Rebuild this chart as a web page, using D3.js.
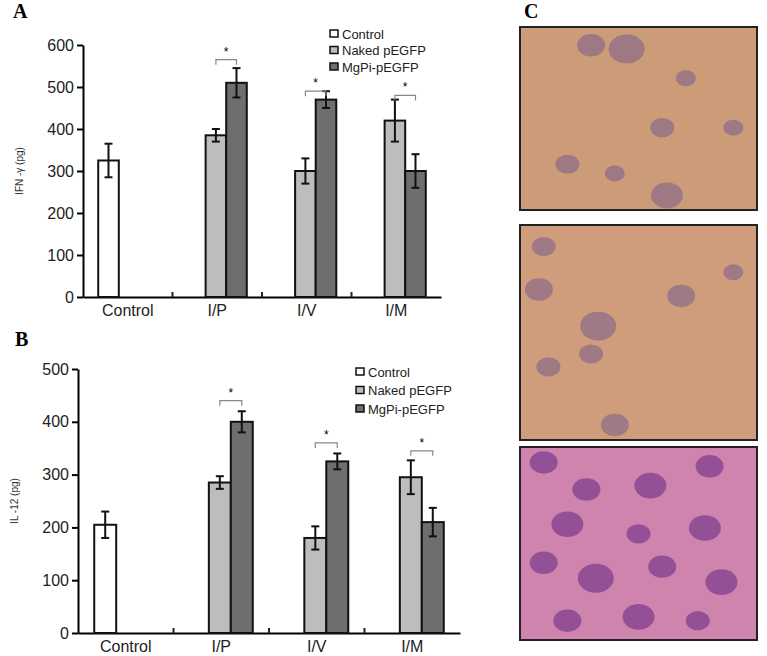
<!DOCTYPE html>
<html><head><meta charset="utf-8">
<script src="https://cdn.jsdelivr.net/npm/d3@7"></script>
<style>body{margin:0;background:#fff}svg{display:block}</style>
</head><body>
<svg id="fig" width="767" height="656"></svg>
<script>
const categories = ['Control', 'I/P', 'I/V', 'I/M'];
const seriesNames = ['Control', 'Naked pEGFP', 'MgPi-pEGFP'];
const colors = ['#ffffff', '#bdbdbd', '#6e6e6e'];
// [category, series, value, error]
const ifnValues = [
  ['Control', 0, 325, 40], ['I/P', 1, 385, 15], ['I/P', 2, 510, 35],
  ['I/V', 1, 300, 30], ['I/V', 2, 470, 20], ['I/M', 1, 420, 50], ['I/M', 2, 300, 40]
];
const il12Values = [
  ['Control', 0, 205, 25], ['I/P', 1, 285, 12], ['I/P', 2, 400, 20],
  ['I/V', 1, 180, 22], ['I/V', 2, 325, 15], ['I/M', 1, 295, 32], ['I/M', 2, 210, 27]
];
const ifnTicks = [0, 100, 200, 300, 400, 500, 600];
const il12Ticks = [0, 100, 200, 300, 400, 500];
// significance brackets: category, y value of bracket
const ifnSig = [['I/P', 565], ['I/V', 490], ['I/M', 480]];
const il12Sig = [['I/P', 440], ['I/V', 360], ['I/M', 345]];
const photoColors = ['#cc9c78', '#d09d7c', '#cf84ad'];
const cellColors = ['#8a6a88', '#8a6a88', '#7a3a8c'];

const svg = d3.select('#fig');

function panel(o) {
  const g = svg.append('g');
  const x = d3.scaleBand().domain(categories).range([o.x0, o.x1]);
  const y = d3.scaleLinear().domain([0, o.max]).range([o.y0, o.y1]);
  const bw = x.bandwidth();
  const font = 'Liberation Sans, Arial';

  g.append('g').attr('transform', `translate(${o.x0},0)`)
    .call(d3.axisLeft(y).tickValues(o.ticks).tickSize(6).tickSizeOuter(0))
    .call(a => a.selectAll('text').attr('font-size', 16).attr('font-family', font).attr('fill', '#222'))
    .call(a => a.select('.domain').attr('stroke-width', 2))
    .call(a => a.selectAll('.tick line').attr('stroke-width', 2));
  g.append('g').attr('transform', `translate(0,${o.y0})`)
    .call(d3.axisBottom(x).tickSize(0).tickPadding(8).tickSizeOuter(0))
    .call(a => a.selectAll('text').attr('font-size', 16).attr('font-family', font).attr('fill', '#222'))
    .call(a => a.select('.domain').attr('stroke-width', 2));
  g.selectAll('.sep').data(categories.slice(1)).join('line')
    .attr('x1', d => x(d)).attr('x2', d => x(d))
    .attr('y1', o.y0).attr('y2', o.y0 - 5).attr('stroke', '#222').attr('stroke-width', 2);

  const off = [0.17, 0.37, 0.6];
  const bx = d => x(d[0]) + bw * off[d[1]];
  const w = bw * 0.23;
  g.selectAll('.bar').data(o.data).join('rect')
    .attr('x', bx).attr('width', w)
    .attr('y', d => y(d[2])).attr('height', d => o.y0 - y(d[2]))
    .attr('fill', d => colors[d[1]]).attr('stroke', '#111').attr('stroke-width', 2);
  const eb = g.selectAll('.err').data(o.data).join('g').attr('stroke', '#111').attr('stroke-width', 2);
  eb.append('line').attr('x1', d => bx(d) + w / 2).attr('x2', d => bx(d) + w / 2)
    .attr('y1', d => y(d[2] - d[3])).attr('y2', d => y(d[2] + d[3]));
  eb.append('line').attr('x1', d => bx(d) + w / 2 - 4).attr('x2', d => bx(d) + w / 2 + 4)
    .attr('y1', d => y(d[2] - d[3])).attr('y2', d => y(d[2] - d[3]));
  eb.append('line').attr('x1', d => bx(d) + w / 2 - 4).attr('x2', d => bx(d) + w / 2 + 4)
    .attr('y1', d => y(d[2] + d[3])).attr('y2', d => y(d[2] + d[3]));

  const sg = g.selectAll('.sig').data(o.sig).join('g');
  sg.append('path').attr('fill', 'none').attr('stroke', '#888').attr('stroke-width', 1.2)
    .attr('d', d => {
      const a = x(d[0]) + bw * off[1] + w / 2, b = x(d[0]) + bw * off[2] + w / 2, yy = y(d[1]);
      return `M${a},${yy + 5}V${yy}H${b}V${yy + 5}`;
    });
  sg.append('text').attr('x', d => x(d[0]) + bw * (off[1] + off[2]) / 2 + w / 2).attr('y', d => y(d[1]) - 4)
    .attr('text-anchor', 'middle').attr('font-size', 12).attr('font-family', font).text('*');

  g.append('text').attr('transform', `translate(${o.x0 - 60},${(o.y0 + o.y1) / 2}) rotate(-90)`)
    .attr('text-anchor', 'middle').attr('font-size', 10).attr('font-family', font)
    .attr('fill', '#333').text(o.label);

  const lg = g.selectAll('.leg').data(seriesNames).join('g')
    .attr('transform', (d, i) => `translate(${o.lx},${o.ly + i * o.ls})`);
  lg.append('rect').attr('x', 0).attr('y', -4).attr('width', 8).attr('height', 7)
    .attr('fill', (d, i) => colors[i]).attr('stroke', '#111').attr('stroke-width', 1.5);
  lg.append('text').attr('x', 12).attr('y', 0).attr('dy', '0.35em').attr('font-size', 13)
    .attr('font-family', font).attr('fill', '#222').text(d => d);

  svg.append('text').attr('x', o.tx).attr('y', o.ty).attr('font-size', 20).attr('font-weight', 'bold')
    .attr('font-family', 'Liberation Serif, Times New Roman').text(o.title);
}

panel({ x0: 83, x1: 441, y0: 297, y1: 45, max: 600, ticks: ifnTicks, data: ifnValues, sig: ifnSig,
  label: 'IFN -γ (pg)', lx: 330, ly: 34, ls: 16.5, tx: 13, ty: 18, title: 'A' });
panel({ x0: 78, x1: 460, y0: 633, y1: 369, max: 500, ticks: il12Ticks, data: il12Values, sig: il12Sig,
  label: 'IL -12 (pg)', lx: 356, ly: 372, ls: 18.5, tx: 15, ty: 346, title: 'B' });

// panel C: micrograph placeholders
svg.append('text').attr('x', 524).attr('y', 18).attr('font-size', 20).attr('font-weight', 'bold')
  .attr('font-family', 'Liberation Serif, Times New Roman').text('C');
const photos = [[520, 27, 237, 183], [520, 225, 237, 215], [520, 447, 237, 193]];
const cells = [
  [[0.3, 0.1, 14], [0.45, 0.12, 18], [0.6, 0.55, 12], [0.2, 0.75, 12], [0.4, 0.8, 10], [0.7, 0.28, 10], [0.9, 0.55, 10], [0.62, 0.92, 16]],
  [[0.1, 0.1, 12], [0.08, 0.3, 14], [0.33, 0.47, 18], [0.3, 0.6, 12], [0.68, 0.33, 14], [0.9, 0.22, 10], [0.12, 0.66, 12], [0.4, 0.93, 14]],
  [[0.1, 0.08, 14], [0.28, 0.22, 14], [0.55, 0.2, 16], [0.8, 0.1, 14], [0.2, 0.4, 16], [0.5, 0.45, 12], [0.78, 0.42, 16], [0.1, 0.6, 14],
   [0.32, 0.68, 18], [0.6, 0.62, 14], [0.85, 0.7, 16], [0.2, 0.9, 14], [0.5, 0.88, 16], [0.75, 0.9, 12]]
];
photos.forEach((p, i) => {
  const g = svg.append('g');
  g.append('rect').attr('x', p[0]).attr('y', p[1]).attr('width', p[2]).attr('height', p[3]).attr('fill', photoColors[i]);
  g.selectAll('ellipse').data(cells[i]).join('ellipse')
    .attr('cx', d => p[0] + d[0] * p[2]).attr('cy', d => p[1] + d[1] * p[3])
    .attr('rx', d => d[2]).attr('ry', d => d[2] * 0.8)
    .attr('fill', cellColors[i]).attr('opacity', 0.7);
  g.append('rect').attr('x', p[0]).attr('y', p[1]).attr('width', p[2]).attr('height', p[3])
    .attr('fill', 'none').attr('stroke', '#222').attr('stroke-width', 2);
});
</script>
</body></html>
